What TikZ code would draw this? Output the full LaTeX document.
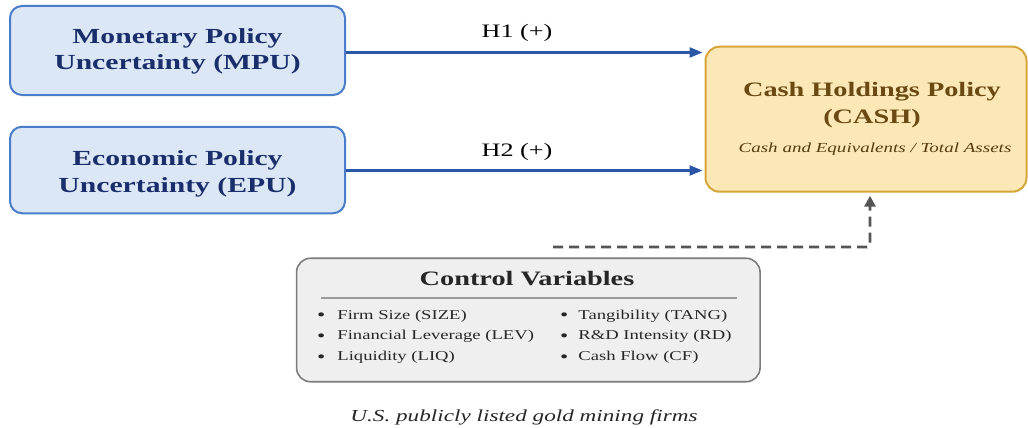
\documentclass[tikz,border=0pt]{standalone}
\usepackage{fontspec}
\setmainfont[FakeStretch=1.38]{Liberation Serif}
\usetikzlibrary{arrows.meta}
\definecolor{boxblue}{HTML}{DCE7F6}
\definecolor{edgeblue}{HTML}{4A7DC9}
\definecolor{navytext}{HTML}{1A2E6C}
\definecolor{arrowblue}{HTML}{2A56A8}
\definecolor{boxgold}{HTML}{FCE8B6}
\definecolor{edgegold}{HTML}{D6A63C}
\definecolor{cashtext}{HTML}{6A4A12}
\definecolor{boxgrey}{HTML}{EFEFEF}
\definecolor{edgegrey}{HTML}{7C7C7C}
\definecolor{ctext}{HTML}{262626}
\definecolor{dashgrey}{HTML}{555555}
\definecolor{rulegrey}{HTML}{9A9A9A}
\newcommand{\itembul}{\raisebox{-1.8pt}{\fontsize{17}{16}\selectfont\textbullet}}
\begin{document}
\begin{tikzpicture}[x=1pt,y=-1pt,
  bluebox/.style={draw=edgeblue, fill=boxblue, line width=2pt, rounded corners=12pt, inner sep=0pt, minimum width=335pt},
  goldbox/.style={draw=edgegold, fill=boxgold, line width=2pt, rounded corners=14pt, inner sep=0pt},
  greybox/.style={draw=edgegrey, fill=boxgrey, line width=1.6pt, rounded corners=14pt, inner sep=0pt},
  bluetxt/.style={anchor=base, inner sep=0pt, text=navytext, font=\fontsize{21.5}{26}\selectfont\bfseries},
  cashtxt/.style={anchor=base, inner sep=0pt, text=cashtext, font=\fontsize{20.5}{26}\selectfont\bfseries},
  cashsub/.style={anchor=base, inner sep=0pt, text=cashtext!80!black, font=\fontsize{13.8}{16}\selectfont\itshape},
  hlabel/.style={anchor=base, inner sep=0pt, text=black, font=\fontsize{19}{22}\selectfont},
  ctitle/.style={anchor=base, inner sep=0pt, text=ctext, font=\fontsize{20.5}{24}\selectfont\bfseries},
  itemtxt/.style={anchor=base west, inner sep=0pt, text=ctext, font=\fontsize{13.5}{16}\selectfont},
  captxt/.style={anchor=base, inner sep=0pt, text=ctext, font=\fontsize{16.8}{20}\selectfont\itshape},
  harrow/.style={draw=arrowblue, line width=2.4pt, -{Triangle[length=13pt,width=10pt]}, shorten >=2pt},
  ctrlarrow/.style={draw=dashgrey, line width=2.8pt, dash pattern=on 10pt off 6pt, rounded corners=3pt, -{Triangle[length=11pt,width=11pt]}, shorten >=3pt},
  rulestyle/.style={draw=rulegrey, line width=1.4pt}
]
\useasboundingbox (0,0) rectangle (1028,428);
\fill[white] (0,0) rectangle (1028,428);

% boxes
\node[bluebox, minimum height=89pt] (mpu) at (177.5,50.5) {};
\node[bluebox, minimum height=86.5pt] (epu) at (177.5,170) {};
\node[goldbox, minimum width=321pt, minimum height=145pt] (cash) at (866,119.2) {};
\node[greybox, minimum width=463.5pt, minimum height=123.5pt] (ctrl) at (528.3,320) {};

% box texts
\node[bluetxt] (mpu1) at (177.5,43.3) {Monetary Policy};
\node[bluetxt] (mpu2) at (177.5,70) {Uncertainty (MPU)};
\node[bluetxt] (epu1) at (177.5,165.7) {Economic Policy};
\node[bluetxt] (epu2) at (177.5,192.5) {Uncertainty (EPU)};
\node[cashtxt] (cash1) at (872,96.7) {Cash Holdings Policy};
\node[cashtxt] (cash2) at (872,123.3) {(CASH)};
\node[cashsub] (cash3) at (875,152.3) {Cash and Equivalents / Total Assets};

% hypotheses
\draw[harrow] ([yshift=-2pt]mpu.east) -- ([yshift=-2pt]mpu.east -| cash.west);
\draw[harrow] ([yshift=-0.5pt]epu.east) -- ([yshift=-0.5pt]epu.east -| cash.west);
\node[hlabel] (h1) at (517,37.3) {H1 (+)};
\node[hlabel] (h2) at (517,156) {H2 (+)};

% control arrow
\coordinate (dstart) at (553,247);
\coordinate (dturn) at (870,247);
\draw[ctrlarrow] (dstart) -- (dturn) -- (dturn |- cash.south);

% control variables
\node[ctitle] (ct) at (527,285) {Control Variables};
\coordinate (r1) at (321,298);
\coordinate (r2) at (737,298);
\draw[rulestyle] (r1) -- (r2);
\node[itemtxt] (i1) at (317,319) {\itembul\hspace{12pt}Firm Size (SIZE)};
\node[itemtxt] (i2) at (317,339.7) {\itembul\hspace{12pt}Financial Leverage (LEV)};
\node[itemtxt] (i3) at (317,360.2) {\itembul\hspace{12pt}Liquidity (LIQ)};
\node[itemtxt] (i4) at (560,319) {\itembul\hspace{10pt}Tangibility (TANG)};
\node[itemtxt] (i5) at (560,339.7) {\itembul\hspace{10pt}R\&D Intensity (RD)};
\node[itemtxt] (i6) at (560,360.2) {\itembul\hspace{10pt}Cash Flow (CF)};

% caption
\node[captxt] (cap) at (524,421) {U.S. publicly listed gold mining firms};
\end{tikzpicture}
\end{document}
